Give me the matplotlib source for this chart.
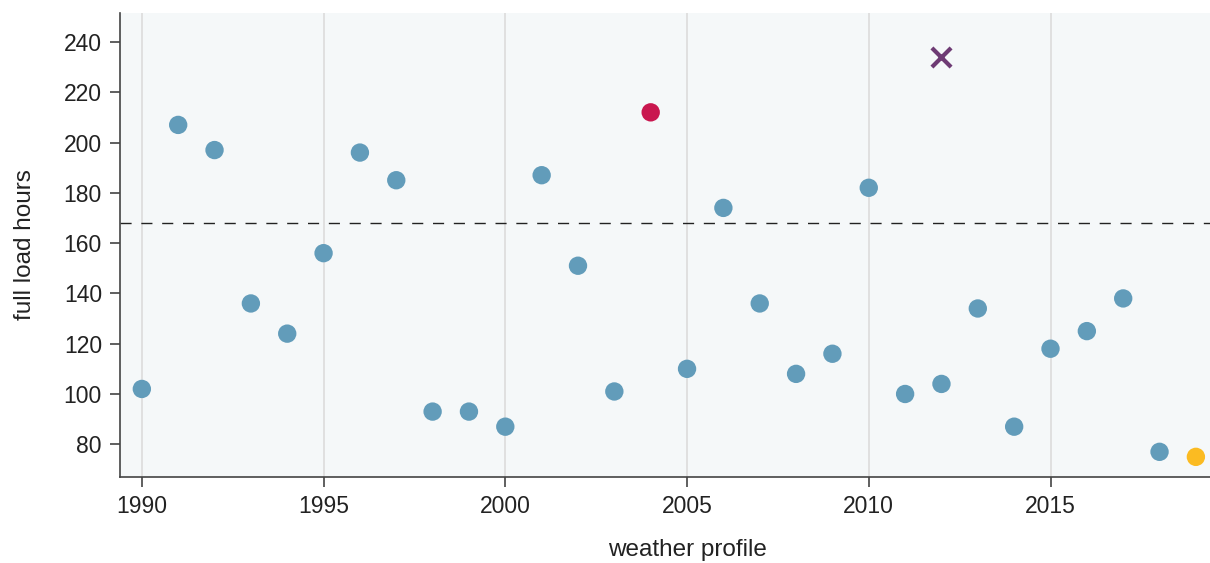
import numpy as np
import matplotlib.pyplot as plt

plt.rcParams['font.family'] = ['Liberation Sans', 'DejaVu Sans']

# weather years and full load hours
years = list(range(1990, 2020))
flh = [102, 207, 197, 136, 124, 156, 196, 185, 93, 93,
       87, 187, 151, 101, 212, 110, 174, 136, 108, 116,
       182, 100, 104, 134, 87, 118, 125, 138, 77, 75]
highlight_red = 2004
highlight_yellow = 2019
x_year = 2012
x_value = 234
mean_line = 168

fig = plt.figure(figsize=(12.1, 5.63), dpi=100)
# axes runs a little past the right edge of the figure, as in the original
ax = fig.add_axes([0.0992, 0.1528, 0.9372, 0.8241])
ax.set_facecolor('#f5f8f9')

yrs = np.array(years)
vals = np.array(flh)
colors = []
for y in yrs:
    if y == highlight_red:
        colors.append('#c9174f')
    elif y == highlight_yellow:
        colors.append('#fbbb22')
    else:
        colors.append('#629cba')
ax.scatter(yrs, vals, s=175, c=colors, linewidths=0, zorder=3)
ax.scatter([x_year], [x_value], s=190, marker='x', c='#6e3b74', linewidths=3, zorder=3)
ax.axhline(mean_line, color='#222222', ls=(0, (8, 7)), lw=1.0, zorder=2)

ax.set_xlim(1989.4, 2020.6)
ax.set_ylim(67, 251.5)
ax.set_xticks([1990, 1995, 2000, 2005, 2010, 2015])
ax.set_yticks(range(80, 241, 20))
ax.grid(axis='x', color='#dcdcdc', lw=1.2, zorder=1)
ax.grid(axis='y', visible=False)
for s in ['top', 'right']:
    ax.spines[s].set_visible(False)
for s in ['left', 'bottom']:
    ax.spines[s].set_color('#444444')
    ax.spines[s].set_linewidth(1.2)
ax.tick_params(axis='both', labelsize=16.5, length=7, width=1.2, color='#444444',
               labelcolor='#222222', pad=6)
ax.set_xlabel('weather profile', fontsize=17.5, color='#222222', labelpad=15)
ax.set_ylabel('full load hours', fontsize=17.5, color='#222222', labelpad=20)

fig.savefig('out.png', dpi=100)
